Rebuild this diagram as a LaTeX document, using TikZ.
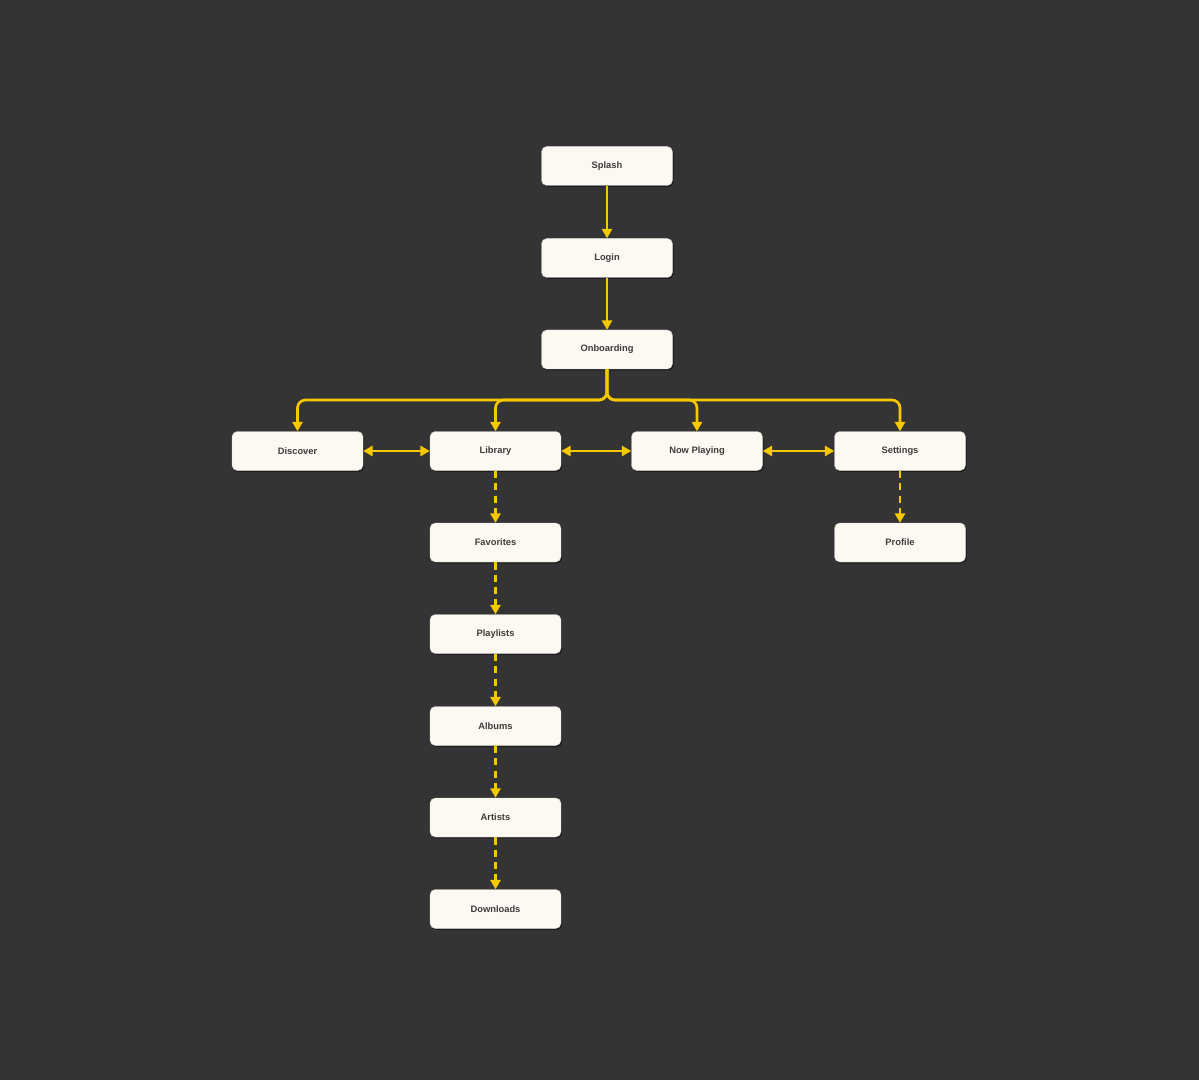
\documentclass[tikz,border=0pt]{standalone}
\usepackage{fontspec}
\setmainfont{Liberation Sans}
\usetikzlibrary{arrows.meta,shadows,positioning}
\definecolor{bgc}{HTML}{343434}
\definecolor{boxc}{HTML}{FBF9F1}
\definecolor{linec}{HTML}{F5C800}
\definecolor{txtc}{HTML}{3C3C3C}
\tikzset{
  screen/.style={draw=boxc!85!black, line width=0.3pt, fill=boxc, rounded corners=4pt,
    minimum width=98.25pt, minimum height=29.25pt, inner sep=0pt,
    font=\fontsize{7}{8}\selectfont\bfseries, text=txtc,
    drop shadow={shadow xshift=0.9pt, shadow yshift=-1.1pt, fill=black, opacity=0.45}},
  flow/.style={draw=linec, line width=2pt, -{Triangle[length=7pt,width=7.5pt]}},
  biflow/.style={draw=linec, line width=2pt, {Triangle[length=7pt,width=7.5pt]}-{Triangle[length=7pt,width=7.5pt]}},
  subflow/.style={flow, dash pattern=on 5.5pt off 3.8pt},
}
\begin{document}
\begin{tikzpicture}[x=0.75pt,y=-0.75pt]
\fill[bgc] (0,0) rectangle (1199,1080);
\useasboundingbox (0,0) rectangle (1199,1080);
\node[screen] (splash) at (607,166) {Splash};
\node[screen] (login) at (607,258) {Login};
\node[screen] (onb) at (607,349.5) {Onboarding};
\node[screen] (disc) at (297.5,451) {Discover};
\node[screen] (lib) at (495.5,451) {Library};
\node[screen] (now) at (697,451) {Now Playing};
\node[screen] (set) at (900,451) {Settings};
\node[screen] (fav) at (495.5,542.5) {Favorites};
\node[screen] (play) at (495.5,634) {Playlists};
\node[screen] (alb) at (495.5,726) {Albums};
\node[screen] (art) at (495.5,817.5) {Artists};
\node[screen] (down) at (495.5,909) {Downloads};
\node[screen] (prof) at (900,542.5) {Profile};
\coordinate (hub) at (607,400);
\draw[flow] (splash) -- (login);
\draw[flow] (login) -- (onb);
\foreach \t in {disc,lib,now,set}{
  \draw[flow, rounded corners=6pt] (onb.south) -- (hub) -| (\t.north);
}
\draw[biflow] (disc) -- (lib);
\draw[biflow] (lib) -- (now);
\draw[biflow] (now) -- (set);
\draw[subflow] (lib) -- (fav);
\draw[subflow] (fav) -- (play);
\draw[subflow] (play) -- (alb);
\draw[subflow] (alb) -- (art);
\draw[subflow] (art) -- (down);
\draw[subflow] (set) -- (prof);
\end{tikzpicture}
\end{document}
